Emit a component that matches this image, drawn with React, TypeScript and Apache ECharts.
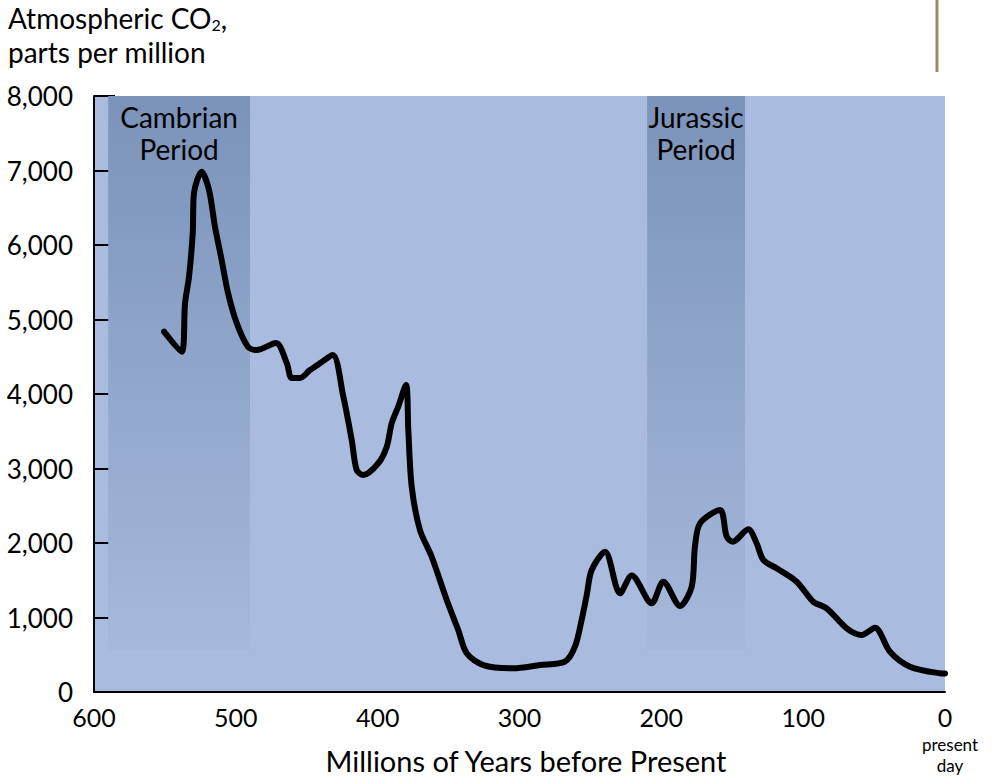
import React, { useEffect, useRef } from "react";
import * as echarts from "echarts";

// Millions of years before present
const ages = [
  550.6, 538.2, 535.8, 533.0, 530.4, 529.5, 524.1, 518.9, 514.7, 510.0, 505.5, 499.4, 491.5, 485.3,
  471.7, 464.1, 460.6, 454.8, 447.7, 440.7, 431.7, 424.2, 418.3, 414.8, 410.1, 399.6, 393.6, 390.1,
  385.5, 380.0, 378.4, 376.0, 370.2, 361.9, 351.3, 343.2, 337.2, 325.5, 304.4, 285.6, 268.0, 260.9,
  256.2, 252.6, 249.1, 239.7, 229.1, 220.9, 206.8, 198.6, 186.8, 178.6, 176.3, 172.7, 158.6, 153.9,
  149.7, 138.7, 132.8, 128.1, 118.7, 104.6, 92.9, 83.4, 69.3, 58.7, 49.4, 38.8, 24.7, 3.5, 0,
];
// Atmospheric CO2, parts per million
const co2 = [
  4836, 4567, 5221, 5575, 6161, 6698, 6984, 6738, 6246, 5799, 5356, 4953, 4635, 4591,
  4685, 4416, 4215, 4215, 4322, 4412, 4523, 3964, 3383, 2980, 2913, 3070, 3293, 3607,
  3830, 4121, 3517, 2756, 2174, 1816, 1235, 832, 519, 362, 318, 362, 407, 608,
  966, 1302, 1638, 1883, 1325, 1564, 1191, 1481, 1154, 1413, 1950, 2264, 2443, 2085,
  2017, 2184, 1996, 1772, 1660, 1481, 1212, 1123, 855, 765, 863, 541, 340, 251, 248,
];
const yTicks = ["0", "1,000", "2,000", "3,000", "4,000", "5,000", "6,000", "7,000", "8,000"];
const periodNames = ["Cambrian\nPeriod", "Jurassic\nPeriod"];
const periodStart = [590, 210];
const periodEnd = [490, 141];

const FONT = "Lato, 'Open Sans', sans-serif";

export default function App() {
  const ref = useRef<HTMLDivElement>(null);
  useEffect(() => {
    if (!ref.current) return;
    const chart = echarts.init(ref.current, null, { renderer: "svg" });
    const bandColor = new echarts.graphic.LinearGradient(0, 0, 0, 1, [
      { offset: 0, color: "#7b93ba" },
      { offset: 1, color: "#a6b9dc" },
    ]);
    const option: any = {
      animation: false,
      textStyle: { fontFamily: FONT },
      grid: {
        left: 94,
        right: 48,
        top: 96,
        bottom: 85,
        show: true,
        backgroundColor: "#a9bcdf",
        borderWidth: 0,
      },
      xAxis: {
        type: "value",
        min: 0,
        max: 600,
        interval: 100,
        inverse: true,
        axisLine: { show: true, onZero: false, lineStyle: { color: "#000", width: 2 } },
        axisTick: { show: false },
        splitLine: { show: false },
        axisLabel: { color: "#000", fontSize: 25, fontFamily: FONT, margin: 12 },
      },
      yAxis: {
        type: "value",
        position: "left",
        min: 0,
        max: 8000,
        interval: 1000,
        axisLine: { show: true, onZero: false, lineStyle: { color: "#000", width: 2 } },
        axisTick: { show: true, inside: true, length: 21, lineStyle: { color: "#000", width: 2 } },
        splitLine: { show: false },
        axisLabel: {
          color: "#000",
          fontSize: 26,
          fontFamily: FONT,
          margin: 21,
          formatter: (v: number) => yTicks[Math.round(v / 1000)],
        },
      },
      series: [
        {
          type: "line",
          data: ages.map((a, i) => [a, co2[i]]),
          showSymbol: false,
          smooth: 0.3,
          lineStyle: { color: "#000", width: 6, cap: "round", join: "round" },
          z: 5,
          markArea: {
            silent: true,
            itemStyle: { color: bandColor },
            label: {
              show: true,
              position: "insideTop",
              distance: 5,
              color: "#000",
              fontSize: 28,
              lineHeight: 32,
              fontFamily: FONT,
              align: "center",
            },
            data: periodNames.map((name, i) => [
              { name, xAxis: periodStart[i], yAxis: 8000 },
              { xAxis: periodEnd[i], yAxis: 560 },
            ]),
          },
        },
      ],
      graphic: [
        {
          type: "text",
          left: 8,
          top: 4,
          style: {
            text: "Atmospheric CO{sub|2},",
            fill: "#000",
            fontSize: 28,
            fontFamily: FONT,
            rich: {
              sub: { fontSize: 16, verticalAlign: "bottom", padding: [10, 0, 0, 0], fontFamily: FONT },
            },
          },
        },
        {
          type: "text",
          left: 8,
          top: 38,
          style: {
            text: "parts per million",
            fill: "#000",
            fontSize: 28,
            fontFamily: FONT,
          },
        },
        {
          type: "text",
          x: 526,
          y: 760,
          style: {
            text: "Millions of Years before Present",
            fill: "#000",
            fontSize: 29,
            fontFamily: FONT,
            align: "center",
            verticalAlign: "middle",
          },
        },
        {
          type: "text",
          x: 950,
          y: 744,
          style: {
            text: "present",
            fill: "#000",
            fontSize: 17,
            fontFamily: FONT,
            align: "center",
            verticalAlign: "middle",
          },
        },
        {
          type: "text",
          x: 950,
          y: 765,
          style: {
            text: "day",
            fill: "#000",
            fontSize: 17,
            fontFamily: FONT,
            align: "center",
            verticalAlign: "middle",
          },
        },
        {
          type: "line",
          shape: { x1: 937, y1: 0, x2: 937, y2: 72 },
          style: { stroke: "#9b8a63", lineWidth: 3 },
        },
      ],
    };
    chart.setOption(option);
    return () => chart.dispose();
  }, []);
  return (
    <div
      ref={ref}
      style={{ position: "fixed", left: 0, top: 0, width: 993, height: 777, background: "#fff" }}
    />
  );
}
